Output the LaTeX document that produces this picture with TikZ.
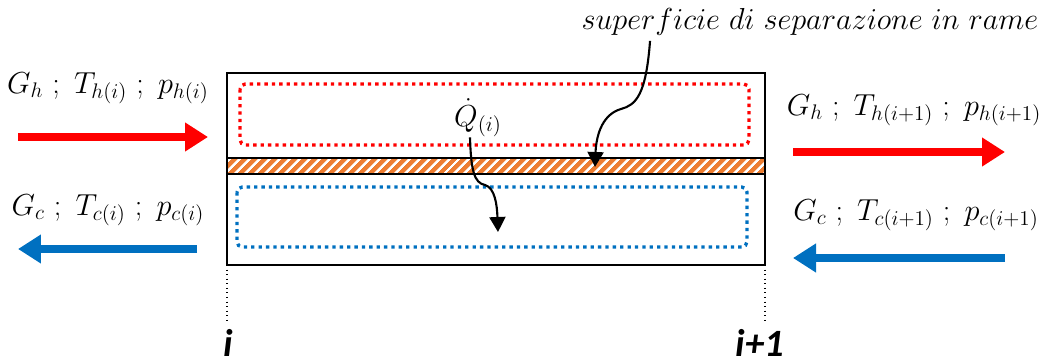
\documentclass[tikz,border=0pt]{standalone}
\usepackage{fontspec}
\newfontfamily\calibfont{Carlito}
\usetikzlibrary{arrows.meta,patterns.meta,positioning}
\definecolor{hotred}{RGB}{255,0,0}
\definecolor{coldblue}{RGB}{0,112,192}
\definecolor{copper}{RGB}{237,125,49}

\tikzset{
  flow/.style={line width=4.5pt, -{Triangle[length=0.46cm,width=0.55cm]}},
  chan/.style={line width=1.9pt, dash pattern=on 1.9pt off 2.3pt, rounded corners=3pt},
  bendarrow/.style={line width=1.2pt, -{Triangle[length=0.3cm,width=0.32cm]}},
  lbl/.style={font=\fontsize{17}{20}\selectfont, inner sep=0pt},
  posl/.style={font=\calibfont\bfseries\itshape\fontsize{22}{24}\selectfont, inner sep=0pt}
}

\begin{document}
\begin{tikzpicture}[x=0.02cm, y=-0.02cm]

  \useasboundingbox (0,0) rectangle (1043,361);

  % Exchanger cell
  \draw[line width=0.8pt] (227,73) rectangle (765,265);
  \fill[copper] (227,158) rectangle (765,174);
  \fill[pattern={Lines[angle=45,distance=4pt,line width=1.4pt]}, pattern color=white]
    (227,158) rectangle (765,174);
  \draw[line width=0.8pt] (227,158) rectangle (765,174);
  \draw[chan, hotred] (240,84) rectangle (749,145);
  \draw[chan, coldblue] (237,187) rectangle (747,247);

  % Section marks
  \draw[dotted, line width=0.6pt] (227,265) -- (227,320);
  \draw[dotted, line width=0.6pt] (765,265) -- (765,320);
  \node[posl] (posi) at (228,343) {i};
  \node[posl] (posnext) at (760,343) {i+1};

  % Flow labels
  \node[lbl] (inhot) at (108,88) {$G_h\ ;\ T_{h(i)}\ ;\ p_{h(i)}$};
  \node[lbl] (incold) at (108,210) {$G_c\ ;\ T_{c(i)}\ ;\ p_{c(i)}$};
  \node[lbl] (outhot) at (914,110) {$G_h\ ;\ T_{h(i+1)}\ ;\ p_{h(i+1)}$};
  \node[lbl] (outcold) at (916,215) {$G_c\ ;\ T_{c(i+1)}\ ;\ p_{c(i+1)}$};

  % Flow arrows
  \coordinate (hinA) at (18,137);   \coordinate (hinB) at (208,137);
  \coordinate (cinA) at (197,249);  \coordinate (cinB) at (18,249);
  \coordinate (houtA) at (793,152); \coordinate (houtB) at (1005,152);
  \coordinate (coutA) at (1005,258); \coordinate (coutB) at (793,258);
  \draw[flow, hotred] (hinA) -- (hinB);
  \draw[flow, coldblue] (cinA) -- (cinB);
  \draw[flow, hotred] (houtA) -- (houtB);
  \draw[flow, coldblue] (coutA) -- (coutB);

  % Heat flux and wall
  \node[lbl] (qdot) at (478,118) {$\dot Q_{(i)}$};
  \node[lbl] (sep) at (810,22) {$superficie\ di\ separazione\ in\ rame$};
  \coordinate (qend) at (498,232);
  \coordinate (wall) at (595,167);
  \draw[bendarrow] ([xshift=-0.16cm]qdot.south) .. controls (471,170) and (474,183) .. (485,185)
    .. controls (495,188) and (497,205) .. (qend);
  \draw[bendarrow] ([xshift=-3.2cm,yshift=-0.1cm]sep.south) .. controls (646,95) and (636,105) .. (621,109)
    .. controls (600,115) and (596,140) .. (wall);

\end{tikzpicture}
\end{document}
